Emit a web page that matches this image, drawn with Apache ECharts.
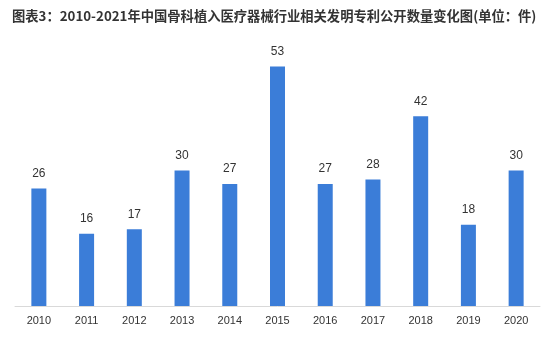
<!DOCTYPE html>
<html><head><meta charset="utf-8">
<script src="https://cdn.jsdelivr.net/npm/echarts@6/dist/echarts.min.js"></script>
<style>html,body{margin:0;padding:0;background:#fff}#c{width:550px;height:363px}</style>
</head><body><div id="c"></div>
<script>
var categories = ['2010','2011','2012','2013','2014','2015','2016','2017','2018','2019','2020'];
var values = [26,16,17,30,27,53,27,28,42,18,30];
var titleText = '图表3：2010-2021年中国骨科植入医疗器械行业相关发明专利公开数量变化图(单位：件)';

var chart = echarts.init(document.getElementById('c'));
chart.setOption({
  animation: false,
  title: {text: titleText, left: 7, top: 4,
    textStyle: {fontSize: 13.3, fontWeight: 'bold', color: '#333', fontFamily: '"Noto Sans CJK SC", sans-serif'}},
  grid: {left: 15, right: 10, top: 35, bottom: 57},
  xAxis: {type: 'category', data: categories,
    axisLine: {lineStyle: {color: '#d9d9d9'}}, axisTick: {show: false},
    axisLabel: {color: '#333', fontSize: 11, margin: 9, fontFamily: 'Arial, "Liberation Sans", sans-serif'}},
  yAxis: {type: 'value', min: 0, max: 60, show: false, splitLine: {show: false}},
  series: [{type: 'bar', data: values, barWidth: 15,
    itemStyle: {color: '#3b7dd8'},
    label: {show: true, position: 'top', distance: 9, color: '#333', fontSize: 12,
      fontFamily: 'Arial, "Liberation Sans", sans-serif'}}]
});
</script></body></html>
